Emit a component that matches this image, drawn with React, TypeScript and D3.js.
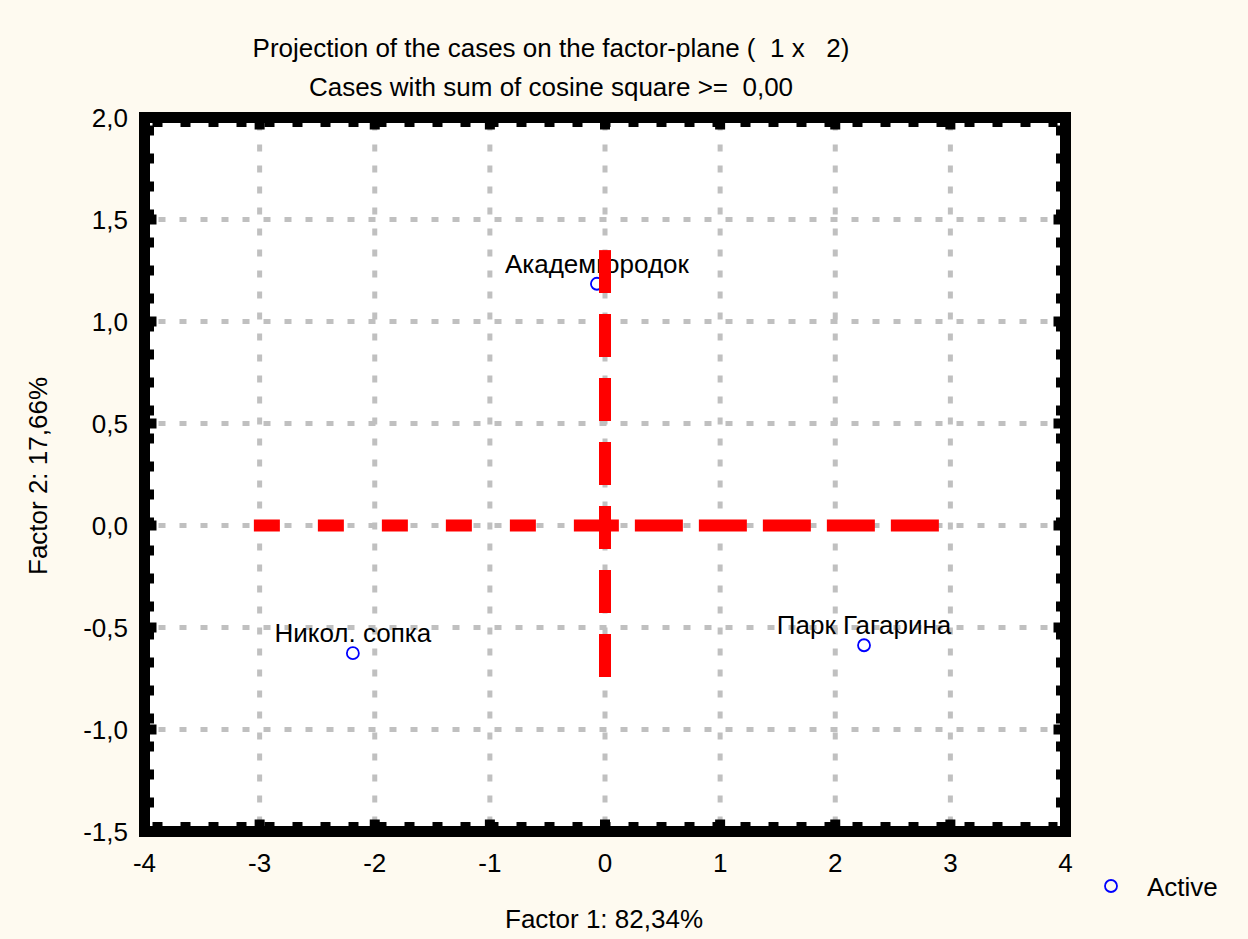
import * as d3 from "d3";
import React from "react";

const xTicks = [-4, -3, -2, -1, 0, 1, 2, 3, 4];
const yTicks = [-1.5, -1.0, -0.5, 0.0, 0.5, 1.0, 1.5, 2.0];

const caseNames = ["Академгородок", "Никол. сопка", "Парк Гагарина"];
const factor1 = [-0.07, -2.19, 2.25];
const factor2 = [1.185, -0.626, -0.587];

// red cross lines through the origin
const hLeft: [number, number][] = [[-3.05, 0], [0, 0]];
const hRight: [number, number][] = [[2.9, 0], [0, 0]];
const vLine: [number, number][] = [[0, 1.35], [0, -0.75]];

const titleLines = [
  "Projection of the cases on the factor-plane (  1 x   2)",
  "Cases with sum of cosine square >=  0,00",
];
const xLabel = "Factor 1: 82,34%";
const yLabel = "Factor 2: 17,66%";
const legendLabel = "Active";

const width = 1248;
const height = 939;
const font = "'Liberation Sans', Arial, sans-serif";
const fs = 26;

// keep the runs of spaces
const keep = (s: string) => s.replace(/ {2,}/g, (m) => "\u00a0".repeat(m.length));

export default function App() {
  const x = d3.scaleLinear().domain([-4, 4]).range([144.5, 1065.5]);
  const y = d3.scaleLinear().domain([-1.5, 2]).range([831.5, 117.5]);
  const fmt = (v: number) => v.toFixed(1).replace(".", ",");

  const line = d3
    .line<[number, number]>()
    .x((d) => x(d[0]))
    .y((d) => y(d[1]));

  const [x0, x1] = x.range();
  const [y0, y1] = y.range();

  return (
    <svg
      width={width}
      height={height}
      style={{ position: "absolute", left: 0, top: 0 }}
      fontFamily={font}
      fontSize={fs}
    >
      <rect width={width} height={height} fill="#fefaf0" />
      <rect x={x0} y={y1} width={x1 - x0} height={y0 - y1} fill="#ffffff" />

      {/* grid */}
      <g stroke="#c0c0c0" strokeWidth={5} strokeDasharray="7 14">
        {xTicks.slice(1, -1).map((t) => (
          <line key={"gx" + t} x1={x(t)} x2={x(t)} y1={y1 + 6} y2={y0 - 6} />
        ))}
        {yTicks.slice(1, -1).map((t) => (
          <line key={"gy" + t} x1={x0 + 14} x2={x1 - 6} y1={y(t)} y2={y(t)} />
        ))}
      </g>

      {/* points */}
      {caseNames.map((name, i) => (
        <g key={name}>
          <circle
            cx={x(factor1[i])}
            cy={y(factor2[i])}
            r={6}
            fill="none"
            stroke="#0000ff"
            strokeWidth={1.8}
          />
          <text
            x={x(factor1[i])}
            y={y(factor2[i]) - 11}
            textAnchor="middle"
            fill="#000"
          >
            {name}
          </text>
        </g>
      ))}

      {/* red cross */}
      <g fill="none" stroke="#ff0000" strokeWidth={12}>
        <path d={line(hLeft) ?? ""} strokeDasharray="26 38" />
        <path d={line(hRight) ?? ""} strokeDasharray="48 16" />
        <path d={line(vLine) ?? ""} strokeDasharray="43 21" />
      </g>

      {/* frame */}
      <rect
        x={x0}
        y={y1}
        width={x1 - x0}
        height={y0 - y1}
        fill="none"
        stroke="#000"
        strokeWidth={11}
      />
      <g stroke="#000" strokeWidth={5} strokeDasharray="10 18">
        <line x1={x0 + 8} x2={x1 - 8} y1={y1 + 7} y2={y1 + 7} />
        <line x1={x0 + 8} x2={x1 - 8} y1={y0 - 7} y2={y0 - 7} />
        <line x1={x0 + 7} x2={x0 + 7} y1={y1 + 8} y2={y0 - 8} />
        <line x1={x1 - 7} x2={x1 - 7} y1={y1 + 8} y2={y0 - 8} />
      </g>
      <g stroke="#000" strokeWidth={10}>
        {xTicks.slice(1, -1).map((t) => (
          <g key={"tx" + t}>
            <line x1={x(t)} x2={x(t)} y1={y1} y2={y1 + 12} />
            <line x1={x(t)} x2={x(t)} y1={y0} y2={y0 - 12} />
          </g>
        ))}
        {yTicks.slice(1, -1).map((t) => (
          <g key={"ty" + t}>
            <line x1={x0} x2={x0 + 12} y1={y(t)} y2={y(t)} />
            <line x1={x1} x2={x1 - 12} y1={y(t)} y2={y(t)} />
          </g>
        ))}
      </g>

      {/* tick labels */}
      {xTicks.map((t) => (
        <text key={"lx" + t} x={x(t)} y={872} textAnchor="middle">
          {t}
        </text>
      ))}
      {yTicks.map((t) => (
        <text key={"ly" + t} x={128} y={y(t) + 9} textAnchor="end">
          {fmt(t)}
        </text>
      ))}

      {/* titles */}
      {titleLines.map((s, i) => (
        <text key={s} x={551} y={57 + i * 39} textAnchor="middle">
          {keep(s)}
        </text>
      ))}
      <text x={604} y={928} textAnchor="middle">
        {xLabel}
      </text>
      <text transform={`translate(47,${476}) rotate(-90)`} textAnchor="middle">
        {yLabel}
      </text>

      {/* legend */}
      <circle cx={1111} cy={886} r={6} fill="none" stroke="#0000ff" strokeWidth={1.8} />
      <text x={1147} y={896}>
        {legendLabel}
      </text>
    </svg>
  );
}
